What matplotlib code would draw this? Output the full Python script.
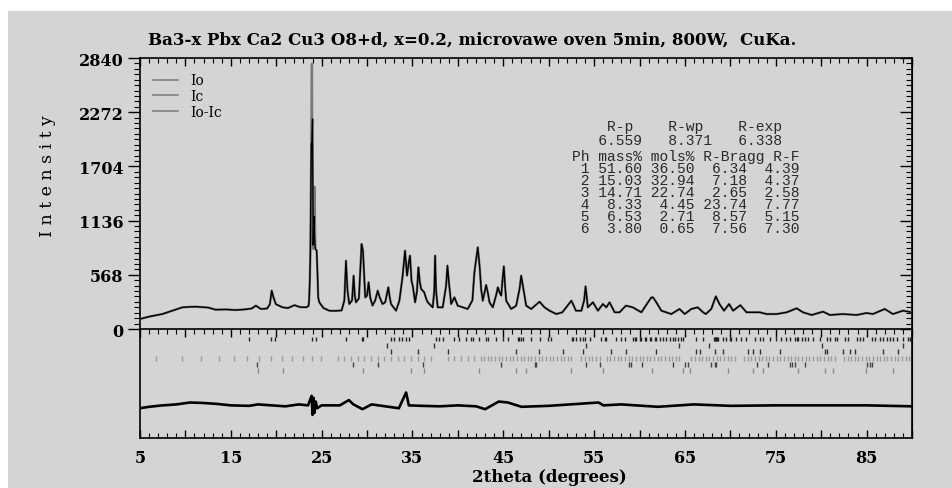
import numpy as np
import matplotlib.pyplot as plt
from matplotlib.lines import Line2D
from matplotlib.patches import Rectangle
from matplotlib.ticker import FixedLocator, FuncFormatter

plt.rcParams['font.family'] = ['DejaVu Serif']

# profile below the main reflection (Io and Ic overlap)
tt_low = [5.0, 6.0, 7.46, 8.5, 9.66, 10.5, 11.1, 12.5, 13.3, 14.5, 15.5, 16.5, 17.3, 17.76,
          18.3, 19.0, 19.3, 19.5, 19.7, 19.96, 20.3, 20.7, 21.3, 22.0, 22.6, 23.27, 23.55]
int_low = [105, 130, 157, 190, 227, 232, 234, 225, 203, 205, 199, 205, 215, 245,
           210, 215, 260, 402, 330, 260, 245, 227, 220, 250, 230, 227, 240]

# main reflection, Io and Ic differ
tt_peak = [23.62, 23.70, 23.76, 23.86, 23.93, 24.00, 24.07, 24.15, 24.22, 24.30, 24.45, 24.55, 24.62]
io_peak = [300, 520, 810, 1950, 2780, 1000, 840, 900, 1490, 850, 820, 560, 330]
ic_peak = [300, 520, 800, 1940, 1960, 2200, 880, 1180, 950, 840, 820, 560, 330]

# profile above the main reflection (Io and Ic overlap)
tt_high = [24.74, 25.2, 25.84, 26.5, 27.2, 27.5, 27.68, 27.85, 28.04, 28.35, 28.52, 28.65, 28.78,
           29.1, 29.3, 29.4, 29.55, 29.8, 30.0, 30.17, 30.35, 30.6, 30.9, 31.17, 31.4, 31.7,
           32.0, 32.34, 32.5, 32.64, 33.19, 33.56, 33.9, 34.18, 34.4, 34.6, 34.73, 34.9, 35.03,
           35.29, 35.5, 35.65, 35.8, 35.95, 36.3, 36.5, 36.68, 37.23, 37.4, 37.49, 37.6, 37.78,
           38.33, 38.7, 38.85, 39.0, 39.26, 39.62, 39.98, 40.53, 41.08, 41.6, 41.82, 42.19,
           42.4, 42.56, 42.74, 43.11, 43.3, 43.48, 43.84, 44.2, 44.4, 44.6, 44.77, 44.9, 45.06,
           45.2, 45.32, 45.87, 46.42, 46.79, 46.97, 47.15, 47.52, 48.07, 48.99, 49.54, 50.09,
           50.83, 51.5, 52.5, 53.0, 53.6, 53.9, 54.06, 54.2, 54.3, 54.87, 55.42, 55.97, 56.34,
           56.7, 57.26, 57.8, 58.5, 59.26, 60.2, 60.93, 61.3, 61.48, 61.85, 62.4, 63.5, 64.4,
           64.98, 65.7, 66.4, 67.0, 67.3, 67.9, 68.4, 68.8, 69.3, 69.86, 70.3, 71.1, 71.78,
           73.25, 73.98, 75.1, 76.2, 77.3, 78.0, 78.95, 80.2, 80.97, 82.4, 83.9, 85.0, 85.7,
           87.0, 87.9, 89.0, 90.0]
int_high = [280, 220, 192, 190, 195, 300, 716, 400, 262, 300, 559, 350, 280,
            320, 700, 891, 820, 332, 350, 489, 330, 246, 300, 402, 330, 262,
            280, 437, 330, 262, 192, 297, 542, 821, 559, 700, 769, 500, 455,
            280, 400, 646, 500, 420, 384, 320, 280, 227, 400, 769, 400, 227,
            227, 450, 664, 500, 262, 332, 245, 227, 210, 300, 594, 856,
            650, 420, 297, 461, 380, 280, 227, 350, 437, 380, 350, 500, 657,
            450, 297, 210, 245, 420, 559, 455, 245, 210, 286, 227, 192,
            157, 175, 297, 192, 192, 300, 447, 330, 227, 280, 192, 262, 227,
            280, 175, 175, 245, 227, 175, 280, 330, 332, 280, 192, 157, 210,
            157, 210, 227, 175, 157, 210, 342, 262, 192, 262, 192, 250, 175,
            175, 157, 157, 175, 217, 175, 147, 182, 147, 157, 147, 168, 157,
            210, 157, 192, 175]

# difference curve Io-Ic (plotted with offset)
diff_tt = [5, 6, 7.5, 9, 10.5, 12, 13.5, 15, 17, 18, 19.5, 21, 22.5, 23.5, 23.9, 24.0, 24.1,
           24.2, 24.35, 24.5, 25, 27, 28, 28.5, 29.5, 30.5, 32, 33.5, 34.3, 34.6, 36, 38, 40,
           42, 43, 44.5, 45.5, 47, 50, 55.5, 56, 58, 62, 66, 70, 75, 80, 85, 90]
diff_val = [-830, -815, -800, -790, -770, -775, -785, -800, -805, -790, -800, -810, -790, -800,
            -700, -900, -720, -880, -760, -830, -800, -800, -745, -790, -840, -790, -810, -830,
            -665, -800, -805, -810, -800, -810, -840, -760, -770, -815, -805, -770, -800, -790,
            -815, -790, -805, -800, -800, -800, -810]

# reflection positions of the six phases
phase1 = [17.02, 19.41, 19.88, 23.93, 24.37, 27.68, 29.45, 29.55, 32.64, 33.0, 33.55, 33.9, 34.3,
          34.66, 37.6, 37.97, 38.4, 39.6, 40.17, 40.9, 41.45, 41.71, 42.37, 43.11, 43.29, 44.21,
          44.94, 45.5, 46.6, 46.78, 46.97, 47.15, 48.07, 48.99, 49.91, 50.27, 52.6, 52.7, 52.96,
          53.4, 53.77, 53.95, 54.5, 55.79, 56.15, 56.34, 57.44, 57.99, 58.36, 59.28, 59.46, 59.65,
          60.01, 60.2, 60.56, 60.75, 61.12, 61.3, 61.67, 61.85, 62.22, 62.59, 62.95, 63.32, 63.69,
          63.87, 64.24, 64.61, 64.79, 66.26, 67.0, 68.2, 68.28, 68.4, 68.47, 68.55, 68.65, 69.2,
          69.57, 69.94, 70.12, 70.67, 71.22, 71.77, 72.69, 73.24, 73.61, 74.35, 75.08, 75.63,
          76.18, 76.55, 77.1, 77.29, 77.47, 77.84, 78.2, 78.57, 79.12, 79.86, 80.59, 80.96, 81.51,
          81.7, 82.61, 82.98, 83.9, 84.27, 84.64, 85.55, 85.92, 86.47, 86.84, 87.21, 87.58, 87.94,
          88.31, 89.05, 89.6, 89.78]
phase2 = [32.2, 37.41, 54.06, 64.35, 67.66, 80.04, 89.05]
phase3 = [32.64, 35.58, 38.88, 46.42, 48.91, 51.56, 53.77, 56.89, 58.54, 61.85, 66.26, 66.63,
          68.28, 69.2, 71.96, 72.51, 73.24, 75.45, 80.41, 80.6, 82.43, 83.17, 83.72, 86.84, 88.5]
phase4 = [6.73, 9.66, 11.69, 13.71, 15.36, 16.83, 18.12, 19.41, 20.62, 21.79, 22.9, 23.93, 24.92,
          26.75, 27.49, 28.23, 28.96, 29.7, 30.43, 31.17, 31.9, 32.64, 33.37, 34.1, 34.84, 35.57,
          36.31, 37.05, 38.88, 39.62, 40.36, 41.09, 41.82, 42.5, 42.9, 43.3, 43.7, 44.1, 44.5,
          44.9, 45.3, 45.7, 46.1, 46.5, 46.9, 47.3, 47.7, 48.1, 48.5, 48.9, 49.3, 49.7, 50.1,
          50.5, 50.9, 51.3, 51.7, 52.1, 52.4, 53.6, 54.0, 54.4, 54.8, 55.2, 55.6, 56.4, 56.8,
          57.2, 57.6, 58.0, 58.4, 58.8, 59.2, 59.6, 60.0, 60.4, 60.8, 61.2, 61.6, 62.0, 62.4,
          62.8, 63.2, 63.6, 64.0, 64.4, 65.7, 66.1, 66.5, 66.9, 67.3, 67.7, 68.1, 68.5, 68.9,
          69.3, 69.7, 70.1, 70.5, 71.5, 71.9, 72.3, 72.7, 73.1, 73.5, 73.9, 74.3, 74.7, 75.1,
          75.5, 75.9, 76.3, 76.7, 77.1, 77.5, 77.9, 78.3, 78.7, 79.1, 79.5, 79.9, 80.3, 80.7,
          81.1, 81.5, 82.5, 82.9, 83.3, 83.7, 84.1, 84.5, 84.9, 85.3, 85.7, 86.1, 86.5, 86.9,
          87.3, 87.7, 88.1, 88.5, 88.9, 89.3, 89.7]
phase5 = [17.83, 28.48, 31.17, 36.12, 44.76, 48.44, 48.62, 54.13, 55.6, 58.84, 59.09, 60.31,
          63.69, 64.97, 65.34, 67.91, 68.28, 68.47, 72.88, 74.16, 76.55, 76.84, 77.1, 78.2, 85.0,
          85.37, 85.55]
phase6 = [17.94, 20.69, 29.59, 34.84, 36.31, 42.38, 46.42, 47.52, 52.48, 55.97, 61.41, 64.79,
          65.53, 69.75, 72.51, 73.61, 77.47, 80.41, 81.33, 84.97, 87.87, 89.96]

r_header = ['R-p', 'R-wp', 'R-exp']
r_values = ['6.559', '8.371', '6.338']
phase_rows = [
    ('1', '51.60', '36.50', '6.34', '4.39'),
    ('2', '15.03', '32.94', '7.18', '4.37'),
    ('3', '14.71', '22.74', '2.65', '2.58'),
    ('4', '8.33', '4.45', '23.74', '7.77'),
    ('5', '6.53', '2.71', '8.57', '5.15'),
    ('6', '3.80', '0.65', '7.56', '7.30'),
]

W, H = 953, 489
fig = plt.figure(figsize=(W / 100, H / 100), dpi=100)
fig.patches.append(Rectangle((8 / W, 0), 1 - 8 / W, 1 - 12 / H, transform=fig.transFigure,
                             facecolor='#d4d4d4', edgecolor='none', zorder=-10))

ax = fig.add_axes([140 / W, 50 / H, 772 / W, 380 / H])
ax.set_facecolor('none')

io_x = tt_low + tt_peak + tt_high
io_y = int_low + io_peak + int_high
ic_y = int_low + ic_peak + int_high
ax.plot(io_x, io_y, color='#7a7a7a', lw=1.7, zorder=3)
ax.plot(io_x, ic_y, color='black', lw=1.0, zorder=4)
ax.plot(diff_tt, diff_val, color='black', lw=1.9, zorder=3)

rows = [(phase1, -105, '#222222'), (phase2, -175, '#333333'), (phase3, -238, '#333333'),
        (phase4, -307, '#9a9a9a'), (phase5, -374, '#444444'), (phase6, -437, '#8a8a8a')]
for pos, yc, col in rows:
    ax.vlines(pos, yc - 25, yc + 25, color=col, lw=1.0)

ax.set_xlim(5, 90)
ax.set_ylim(-1142, 2840)

yt = np.arange(0, 2841, 568)
ymin_t = np.arange(0, 2841, 56.8)
ax.set_yticks(yt)
ax.yaxis.set_minor_locator(FixedLocator(ymin_t))
ax.tick_params(axis='y', which='major', direction='out', length=9, width=1, labelsize=11.5, pad=3)
ax.tick_params(axis='y', which='minor', direction='out', length=4, width=0.8)

xt = np.arange(5, 91, 5)
ax.xaxis.set_major_locator(FixedLocator(xt))
ax.xaxis.set_minor_locator(FixedLocator(np.arange(5, 91, 1)))
ax.xaxis.set_major_formatter(FuncFormatter(lambda v, p: f'{v:.0f}' if int(v) % 10 == 5 else ''))
ax.tick_params(axis='x', which='both', direction='in', top=True, labelsize=11.5, pad=8)
ax.tick_params(axis='x', which='major', length=6, width=1)
ax.tick_params(axis='x', which='minor', length=3.5, width=0.8)
for lab in ax.get_xticklabels() + ax.get_yticklabels():
    lab.set_fontweight('bold')

secy = ax.secondary_yaxis('right')
secy.set_yticks(yt)
secy.yaxis.set_minor_locator(FixedLocator(ymin_t))
secy.tick_params(which='both', direction='in', labelright=False)
secy.tick_params(which='major', length=9, width=1)
secy.tick_params(which='minor', length=4, width=0.8)

# zero line with downward ticks
zero = ax.secondary_xaxis(1142 / (1142 + 2840))
zero.xaxis.set_major_locator(FixedLocator(xt))
zero.xaxis.set_minor_locator(FixedLocator(np.arange(5, 91, 1)))
zero.tick_params(which='both', direction='out', labelbottom=False, labeltop=False)
zero.tick_params(which='major', length=6, width=1)
zero.tick_params(which='minor', length=3.5, width=0.8)
for s in zero.spines.values():
    s.set_linewidth(1.2)

for s in ax.spines.values():
    s.set_linewidth(1.2)

handles = [Line2D([], [], color='#808080', lw=1.2) for _ in range(3)]
ax.legend(handles, ['Io', 'Ic', 'Io-Ic'], loc='upper left', bbox_to_anchor=(0.004, 0.985),
          frameon=False, fontsize=10, handlelength=1.8, handletextpad=0.9,
          labelspacing=0.12, borderpad=0.2)

fig.text(148 / W, 1 - 40 / H, 'Ba3-x Pbx Ca2 Cu3 O8+d, x=0.2, microvawe oven 5min, 800W,  CuKa.',
         ha='left', va='center', fontsize=12, fontweight='bold')
fig.text(549 / W, 1 - 478 / H, '2theta (degrees)', ha='center', va='center', fontsize=12,
         fontweight='bold')
fig.text(48 / W, 1 - 176 / H, 'I n t e n s i t y', rotation=90, ha='center', va='center',
         fontsize=12.5)

head = ['    {:<7}{:<8}{}'.format(*r_header),
        '   {:<8}{:<8}{}'.format(*r_values)]
body = ['Ph mass% mols% R-Bragg R-F']
for ph in phase_rows:
    body.append('{:>2}{:>6}{:>6}{:>6}{:>6}'.format(*ph))
fig.text(572.5 / W, 1 - 134 / H, '\n'.join(head), family='Liberation Mono', fontsize=10.5,
         color='#2a2a2a', ha='left', va='center', linespacing=1.05)
fig.text(572.5 / W, 1 - 193 / H, '\n'.join(body), family='Liberation Mono', fontsize=10.5,
         color='#2a2a2a', ha='left', va='center', linespacing=0.82)

fig.savefig('out.png', dpi=100, facecolor='white')
